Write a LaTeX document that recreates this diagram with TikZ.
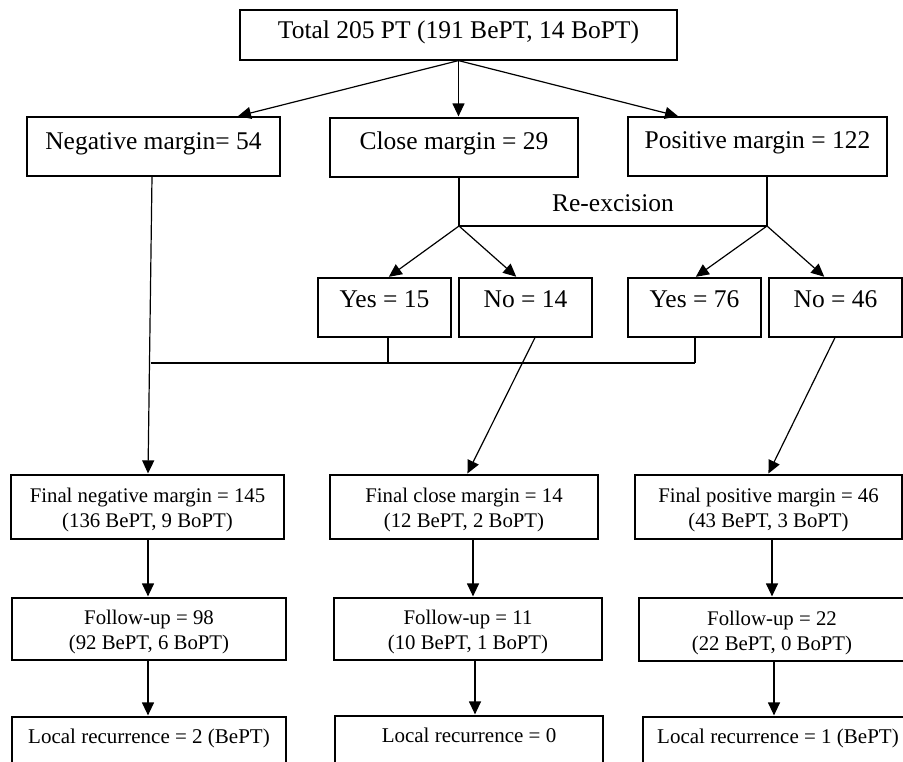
\documentclass[tikz,border=0pt]{standalone}
\usepackage{fontspec}
\setmainfont{Liberation Serif}
\usetikzlibrary{arrows.meta,calc}
\tikzset{
 box/.style={draw, line width=1.2pt, inner sep=0pt, anchor=center},
 big/.style={box, font=\fontsize{25.5}{30}\selectfont, text height=17pt},
 yesno/.style={big, minimum width=133pt, minimum height=59pt, text depth=17pt},
 small/.style={box, font=\fontsize{20.8}{25}\selectfont, align=center},
 local/.style={box, font=\fontsize{21}{25}\selectfont, minimum height=62pt, text height=14pt, text depth=24pt},
 arr/.style={line width=1.2pt, -{Triangle[length=13pt,width=12pt]}, shorten >=1pt},
 ln/.style={line width=1.2pt},
}
\begin{document}
\begin{tikzpicture}[x=1pt,y=-1pt]
\useasboundingbox (0,0) rectangle (903,761);
\fill[white] (0,0) rectangle (903,761);
\clip (0,0) rectangle (903,761);

\node[big, minimum width=437pt, minimum height=50pt, text depth=11pt] (top) at (458.5,35) {Total 205 PT (191 BePT, 14 BoPT)};

\node[big, minimum width=253pt, minimum height=59pt, text depth=11pt] (neg) at (153.5,146.5) {Negative margin= 54};
\node[big, minimum width=248pt, minimum height=59pt, text depth=13pt] (close) at (454,147.5) {Close margin = 29};
\node[big, minimum width=259pt, minimum height=59pt, text depth=13pt] (pos) at (757.5,146.5) {Positive margin = 122};

\node[font=\fontsize{25.5}{30}\selectfont, inner sep=0pt] (rex) at (613,203) {Re-excision};

\node[yesno] (yes15) at (384.5,307.5) {Yes = 15};
\node[yesno] (no14) at (525.5,307.5) {No = 14};
\node[yesno] (yes76) at (694.5,307.5) {Yes = 76};
\node[yesno] (no46) at (835.5,307.5) {No = 46};

\node[small, minimum width=273pt, minimum height=64pt] (fneg) at (147.5,507) {\rule{0pt}{21pt}Final negative margin = 145\\(136 BePT, 9 BoPT)};
\node[small, minimum width=268pt, minimum height=64pt] (fclose) at (464,507) {\rule{0pt}{21pt}Final close margin = 14\\(12 BePT, 2 BoPT)};
\node[small, minimum width=267pt, minimum height=64pt] (fpos) at (768.5,507) {\rule{0pt}{21pt}Final positive margin = 46\\(43 BePT, 3 BoPT)};

\node[small, minimum width=274pt, minimum height=62pt] (funeg) at (149,629) {\rule{0pt}{21pt}Follow-up = 98\\(92 BePT, 6 BoPT)};
\node[small, minimum width=268pt, minimum height=62pt] (fuclose) at (468,629) {\rule{0pt}{21pt}Follow-up = 11\\(10 BePT, 1 BoPT)};
\node[small, minimum width=266pt, minimum height=63pt] (fupos) at (772,629.5) {\rule{0pt}{21pt}Follow-up = 22\\(22 BePT, 0 BoPT)};

\node[local, minimum width=274pt] (lneg) at (149,748) {Local recurrence = 2 (BePT)};
\node[local, minimum width=268pt] (lclose) at (469,747) {Local recurrence = 0};
\node[local, minimum width=270pt] (lpos) at (778,748) {Local recurrence = 1 (BePT)};

% top arrows
\draw[arr] (top.south) -- ([xshift=83.5pt]neg.north);
\draw[arr] (top.south) -- ([xshift=4.5pt]close.north);
\draw[arr] (top.south) -- ([xshift=-78.5pt]pos.north);

% re-excision
\coordinate (rx1) at (459,226);
\coordinate (rx2) at (767,226);
\draw[ln] (rx1 |- close.south) -- (rx1) -- (rx2) -- (rx2 |- pos.south);
\draw[arr] (rx1) -- ([xshift=3.5pt]yes15.north);
\draw[arr] (rx1) -- ([xshift=-8.5pt]no14.north);
\draw[arr] (rx2) -- ([xshift=0.5pt]yes76.north);
\draw[arr] (rx2) -- ([xshift=-10.5pt]no46.north);

% join to final negative
\coordinate (jl) at (150.5,363);
\coordinate (jm) at (388,363);
\coordinate (jr) at (695,363);
\draw[ln] (jm |- yes15.south) -- (jm);
\draw[ln] (jr |- yes76.south) -- (jr);
\draw[ln] (jl) -- (jr);
\draw[arr] ([xshift=-1.5pt]neg.south) -- ([xshift=0.5pt]fneg.north);

\draw[arr] ([xshift=9.5pt]no14.south) -- ([xshift=3pt]fclose.north);
\draw[arr] ([xshift=-0.5pt]no46.south) -- ([xshift=-0.5pt]fpos.north);

% lower chains
\draw[arr] ([xshift=0.5pt]fneg.south) -- ([xshift=-1pt]funeg.north);
\draw[arr] ([xshift=9pt]fclose.south) -- ([xshift=5pt]fuclose.north);
\draw[arr] ([xshift=3.5pt]fpos.south) -- ([xshift=0pt]fupos.north);

\draw[arr] ([xshift=-1pt]funeg.south) -- ([xshift=-1pt]lneg.north);
\draw[arr] ([xshift=7pt]fuclose.south) -- ([xshift=6pt]lclose.north);
\draw[arr] ([xshift=2pt]fupos.south) -- ([xshift=-4pt]lpos.north);
\end{tikzpicture}
\end{document}
